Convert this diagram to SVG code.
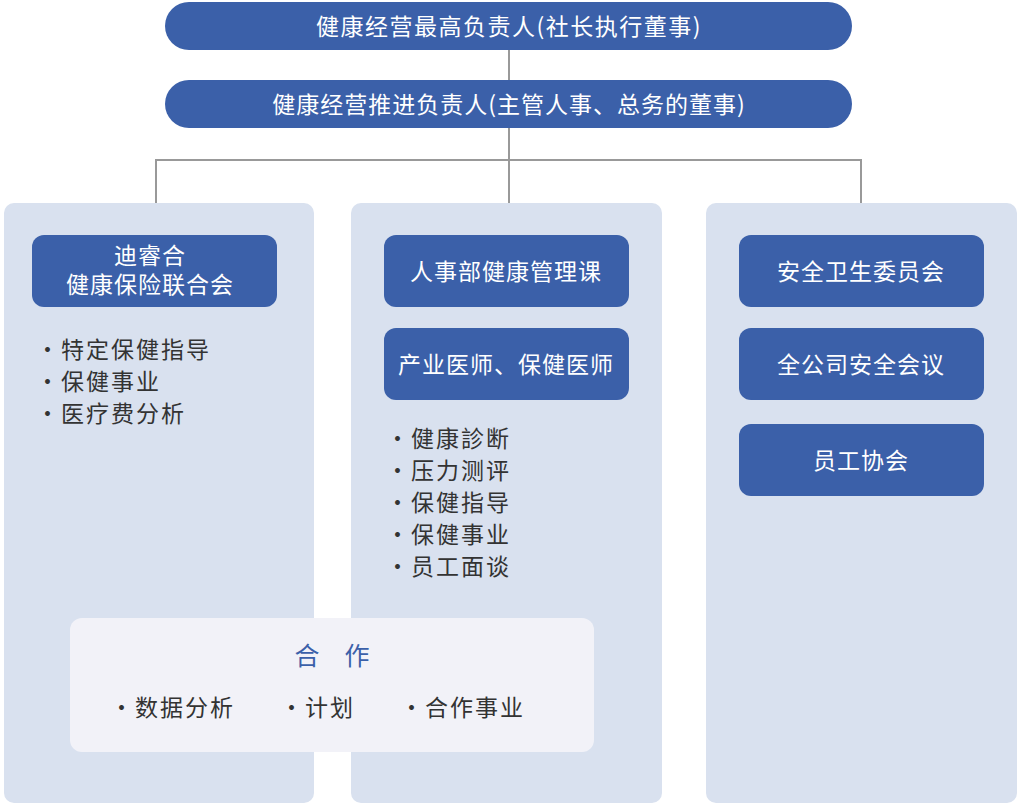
<svg xmlns="http://www.w3.org/2000/svg" width="1020" height="805" viewBox="0 0 1020 805">
<style>
text{font-family:"Noto Sans CJK SC","Noto Sans",sans-serif}
.col{fill:#d9e1ef}
.box{fill:#3b60a9}
.wt{fill:#fff;font-size:23px;text-anchor:middle;letter-spacing:1px}
.bl{fill:#333;font-size:23px;letter-spacing:2px}
.ln{stroke:#999;stroke-width:2;fill:none}
</style>
<rect width="1020" height="805" fill="#fff"/>
<g id="connectors">
<path class="ln" d="M509 50V80M509 128V160M156 203V160H861V203M509 160V203"/>
</g>
<g id="top1"><rect class="box" x="165" y="2" width="687" height="48" rx="24"/><text class="wt" x="509" y="35" font-size="26" style="letter-spacing:1.5px">健康经营最高负责人(社长执行董事)</text></g>
<g id="top2"><rect class="box" x="165" y="80" width="687" height="48" rx="24"/><text class="wt" x="509" y="113" font-size="26" style="letter-spacing:1px">健康经营推进负责人(主管人事、总务的董事)</text></g>
<g id="col1"><rect class="col" x="4" y="203" width="310" height="600" rx="10"/></g>
<g id="col2"><rect class="col" x="351" y="203" width="311" height="600" rx="10"/></g>
<g id="col3"><rect class="col" x="706" y="203" width="311" height="600" rx="10"/></g>
<g id="n1"><rect class="box" x="32" y="235" width="245" height="72" rx="12"/><text class="wt" x="150" y="264" font-size="22">迪睿合</text><text class="wt" x="150" y="293" font-size="22">健康保险联合会</text></g>
<g id="n1list"><text class="bl" x="36" y="358">・特定保健指导</text><text class="bl" x="36" y="390">・保健事业</text><text class="bl" x="36" y="422">・医疗费分析</text></g>
<g id="n2"><rect class="box" x="384" y="235" width="245" height="72" rx="12"/><text class="wt" x="506" y="280">人事部健康管理课</text></g>
<g id="n3"><rect class="box" x="384" y="328" width="245" height="72" rx="12"/><text class="wt" x="506" y="373">产业医师、保健医师</text></g>
<g id="n3list"><text class="bl" x="386" y="447">・健康診断</text><text class="bl" x="386" y="479">・压力测评</text><text class="bl" x="386" y="511">・保健指导</text><text class="bl" x="386" y="543">・保健事业</text><text class="bl" x="386" y="575">・员工面谈</text></g>
<g id="n4"><rect class="box" x="739" y="235" width="245" height="72" rx="12"/><text class="wt" x="861" y="280">安全卫生委员会</text></g>
<g id="n5"><rect class="box" x="739" y="328" width="245" height="72" rx="12"/><text class="wt" x="861" y="373">全公司安全会议</text></g>
<g id="n6"><rect class="box" x="739" y="424" width="245" height="72" rx="12"/><text class="wt" x="861" y="469">员工协会</text></g>
<g id="coop"><rect x="70" y="618" width="524" height="134" rx="12" fill="#f2f2f8"/><text x="332" y="665" font-size="25" fill="#3b60a9" text-anchor="middle">合　作</text><text class="bl" x="110" y="716">・数据分析</text><text class="bl" x="280" y="716">・计划</text><text class="bl" x="400" y="716">・合作事业</text></g>
</svg>
